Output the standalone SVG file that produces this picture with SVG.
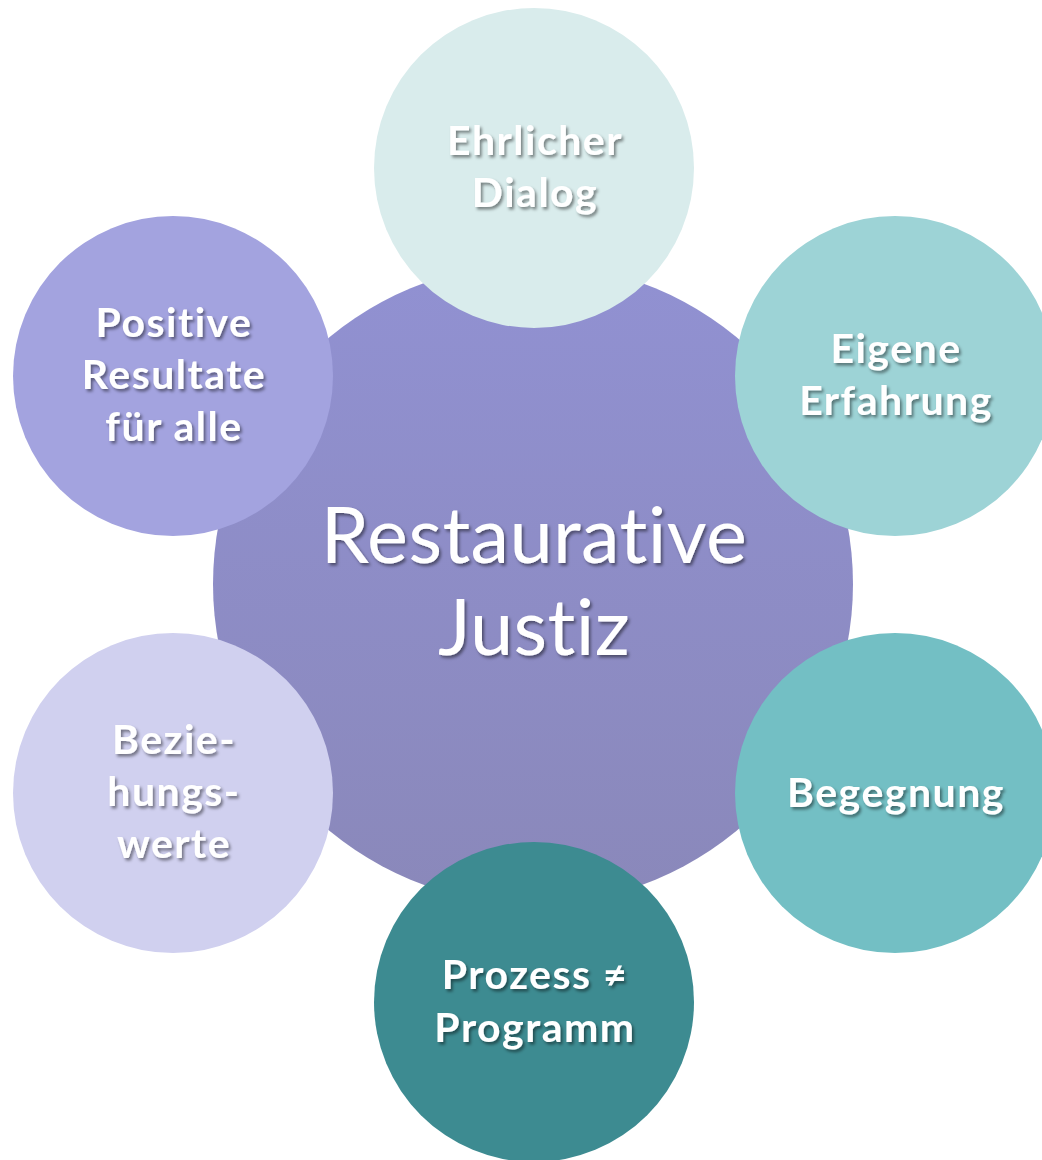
<svg xmlns="http://www.w3.org/2000/svg" width="1042" height="1160" viewBox="0 0 1042 1160">
  <defs>
    <linearGradient id="hubFill" x1="0" y1="0" x2="0" y2="1">
      <stop offset="0" stop-color="#9191D2"/>
      <stop offset="1" stop-color="#8A88BA"/>
    </linearGradient>
    <filter id="txtShadow" x="-20%" y="-20%" width="140%" height="140%">
      <feDropShadow dx="2" dy="2.5" stdDeviation="1.5" flood-color="#000" flood-opacity="0.45"/>
    </filter>
  </defs>
  <style>
    text { font-variant-ligatures: none; font-feature-settings: "liga" 0, "clig" 0, "dlig" 0; }
    .lbl { font-family: "Lato", "Open Sans", "Liberation Sans", sans-serif; font-weight: bold; font-size: 41px; letter-spacing: 1.5px; fill: #FFFFFF; text-anchor: middle; filter: url(#txtShadow); }
    .hub { font-family: "Lato", "Open Sans", "Liberation Sans", sans-serif; font-weight: normal; font-size: 77.5px; letter-spacing: 0.4px; fill: #FFFFFF; text-anchor: middle; filter: url(#txtShadow); }
  </style>
  <rect width="1042" height="1160" fill="#FFFFFF"/>

  <g id="connectors"/>

  <g id="hub">
    <circle cx="533" cy="584" r="320" fill="url(#hubFill)"/>
    <text class="hub" x="534" y="563">Restaurative</text>
    <text class="hub" x="534" y="655">Justiz</text>
  </g>

  <g id="ehrlicher-dialog">
    <circle cx="534" cy="168" r="160" fill="#D9ECEC"/>
    <text class="lbl" x="535" y="155">Ehrlicher</text>
    <text class="lbl" x="535" y="207">Dialog</text>
  </g>

  <g id="eigene-erfahrung">
    <circle cx="895" cy="376" r="160" fill="#9DD3D6"/>
    <text class="lbl" x="896" y="363">Eigene</text>
    <text class="lbl" x="896" y="415">Erfahrung</text>
  </g>

  <g id="begegnung">
    <circle cx="895" cy="793" r="160" fill="#73BFC4"/>
    <text class="lbl" x="896" y="807">Begegnung</text>
  </g>

  <g id="prozess-programm">
    <circle cx="534" cy="1002" r="160" fill="#3D8B91"/>
    <text class="lbl" x="535" y="989">Prozess ≠</text>
    <text class="lbl" x="535" y="1042">Programm</text>
  </g>

  <g id="beziehungswerte">
    <circle cx="173" cy="793" r="160" fill="#D0D0EF"/>
    <text class="lbl" x="174" y="754">Bezie-</text>
    <text class="lbl" x="174" y="806">hungs-</text>
    <text class="lbl" x="174" y="858">werte</text>
  </g>

  <g id="positive-resultate">
    <circle cx="173" cy="376" r="160" fill="#A3A3DF"/>
    <text class="lbl" x="174" y="337">Positive</text>
    <text class="lbl" x="174" y="389">Resultate</text>
    <text class="lbl" x="174" y="441">für alle</text>
  </g>
</svg>
